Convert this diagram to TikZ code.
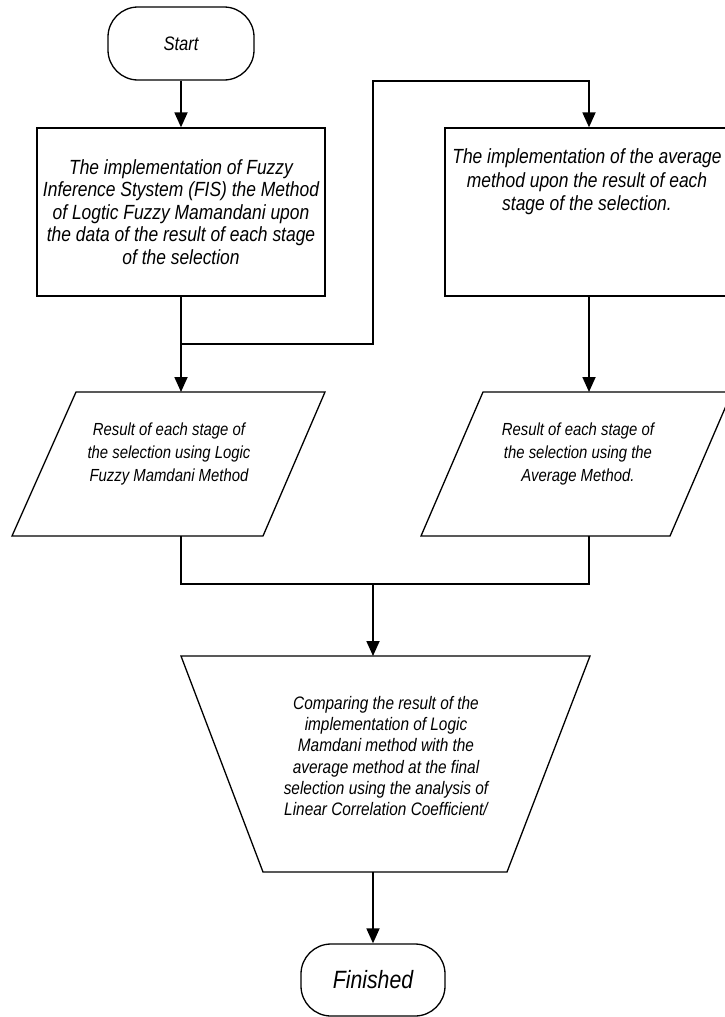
\documentclass[tikz,border=0pt]{standalone}
\usepackage{fontspec}
\usetikzlibrary{arrows.meta}
\newfontfamily\ff{Liberation Sans}[FakeStretch=0.85]
\newcommand{\fs}[2]{\ff\itshape\fontsize{#1}{#2}\selectfont}
\tikzset{
  shp/.style={draw, line width=1.3pt, inner sep=0pt},
  term/.style={shp, rounded corners=30pt, minimum width=146pt, minimum height=73pt},
  proc/.style={shp, minimum width=288pt, minimum height=168pt},
  txt/.style={align=center, inner sep=0pt},
  ln/.style={line width=1.6pt},
  arr/.style={line width=1.8pt, -{Triangle[length=15pt,width=13pt]}}
}
\begin{document}
\begin{tikzpicture}[x=1pt,y=-1pt]
\useasboundingbox (0,0) rectangle (724,1017);
% terminals and process boxes
\node[term, font=\fs{19.5}{22}] (start) at (181,43.5) {Start};
\node[proc] (box1) at (181,212) {};
\node[txt, font=\fs{20.5}{22.5}] (b1t) at (181,212) {The implementation of Fuzzy\\Inference Stystem (FIS) the Method\\of Logtic Fuzzy Mamandani upon\\the data of the result of each stage\\of the selection};
\node[proc] (box2) at (589,212) {};
\node[txt, font=\fs{20.5}{23.5}] (b2t) at (587,182) {The implementation of the average\\method upon the result of each\\stage of the selection.};
% parallelograms
\draw[line width=1.3pt] (76,392) -- (325,392) -- (263,536) -- (12,536) -- cycle;
\draw[line width=1.3pt] (483,392) -- (732,392) -- (670,536) -- (421,536) -- cycle;
\node[txt, font=\fs{17.5}{23}] (p1t) at (169,454) {Result of each stage of\\the selection using Logic\\Fuzzy Mamdani Method};
\node[txt, font=\fs{17.5}{23}] (p2t) at (578,454) {Result of each stage of\\the selection using the\\Average Method.};
% trapezium
\draw[line width=1.3pt] (181,656) -- (590,656) -- (507,872) -- (263,872) -- cycle;
\node[txt, font=\fs{18.1}{21.2}] (trt) at (386,756) {Comparing the result of the\\implementation of Logic\\Mamdani method with the\\average method at the final\\selection using the analysis of\\Linear Correlation Coefficient/};
\node[term, minimum width=144pt, minimum height=72pt, font=\fs{25}{28}] (fin) at (373,980) {Finished};
% connection points
\coordinate (p1top) at (181,392);
\coordinate (p1bot) at (181,536);
\coordinate (p2top) at (589,392);
\coordinate (p2bot) at (589,536);
\coordinate (trtop) at (373,656);
\coordinate (trbot) at (373,872);
\coordinate (j1) at (181,344);
\coordinate (k1) at (373,81);
\coordinate (j2) at (373,584);
% connectors
\draw[arr] (start.south) -- (box1.north);
\draw[ln] (box1.south) -- (j1);
\draw[arr] (j1) -- (p1top);
\draw[arr] (j1) -| (k1) -| (box2.north);
\draw[arr] (box2.south) -- (p2top);
\draw[ln] (p1bot) |- (j2) -| (p2bot);
\draw[arr] (j2) -- (trtop);
\draw[arr] (trbot) -- (fin.north);
\end{tikzpicture}
\end{document}
